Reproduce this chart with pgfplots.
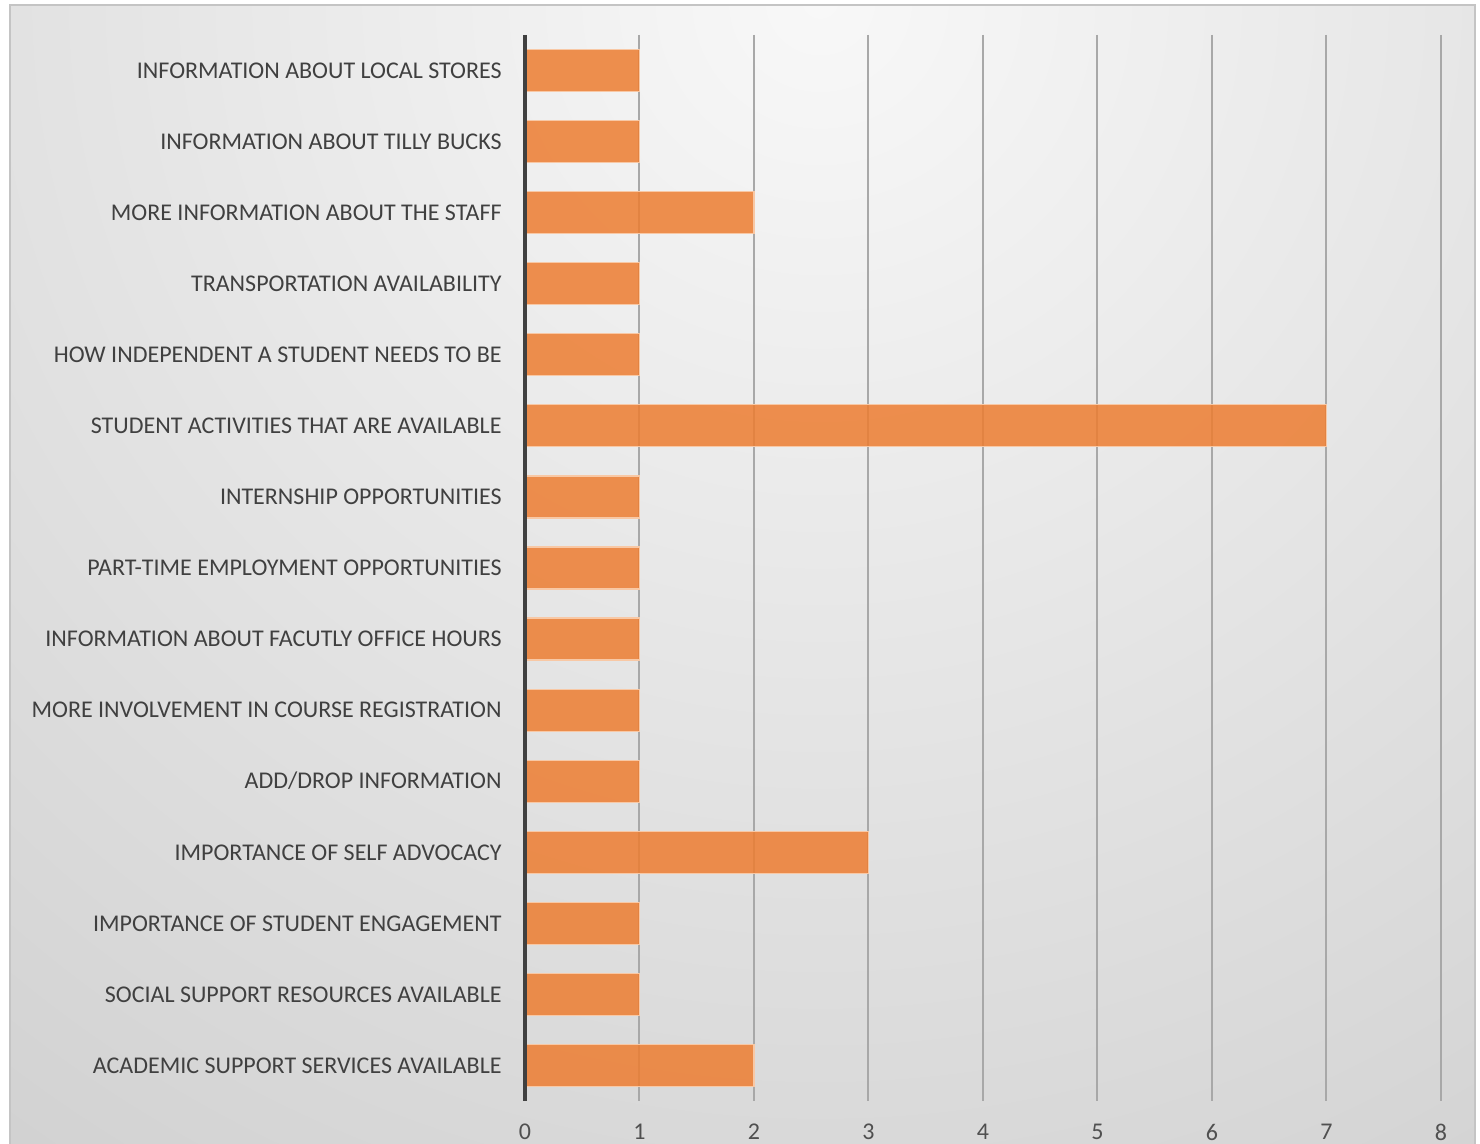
\documentclass[border=0pt]{standalone}
\usepackage{pgfplots}
\pgfplotsset{compat=1.18}
\usepackage{fontspec}
\setmainfont{Carlito}
\definecolor{barc}{HTML}{ED7D31}
\definecolor{barborder}{RGB}{248,200,165}
\definecolor{bgin}{HTML}{F8F8F8}
\definecolor{bgout}{HTML}{BCBCBC}
\definecolor{bordc}{HTML}{C4C4C4}
\definecolor{gridc}{HTML}{A8A8A8}
\definecolor{labc}{HTML}{404040}
\definecolor{tickc}{HTML}{505050}
\definecolor{axc}{HTML}{404040}
\begin{document}
\begin{tikzpicture}[x=1pt,y=1pt]
\path[use as bounding box, fill=white] (0,0) rectangle (740,572);
\begin{scope}
\clip (5,0) rectangle (737.5,569.5);
\shade[inner color=bgin, outer color=bgout] (410,572) circle (1100);
\end{scope}
\draw[bordc, line width=1.2pt] (5,-5) -- (5,569.5) -- (737.5,569.5) -- (737.5,-5);
\begin{axis}[
  at={(262.5pt,21.5pt)}, anchor=south west,
  scale only axis, width=458pt, height=533pt,
  xmin=0, xmax=8, ymin=-0.5, ymax=14.5, y dir=reverse,
  xbar, bar width=21pt,
  ytick={0,...,14},
  yticklabels={INFORMATION ABOUT LOCAL STORES, INFORMATION ABOUT TILLY BUCKS, MORE INFORMATION ABOUT THE STAFF, TRANSPORTATION AVAILABILITY, HOW INDEPENDENT A STUDENT NEEDS TO BE, STUDENT ACTIVITIES THAT ARE AVAILABLE, INTERNSHIP OPPORTUNITIES, PART-TIME EMPLOYMENT OPPORTUNITIES, INFORMATION ABOUT FACUTLY OFFICE HOURS, MORE INVOLVEMENT IN COURSE REGISTRATION, ADD/DROP INFORMATION, IMPORTANCE OF SELF ADVOCACY, IMPORTANCE OF STUDENT ENGAGEMENT, SOCIAL SUPPORT RESOURCES AVAILABLE, ACADEMIC SUPPORT SERVICES AVAILABLE},
  xtick={0,...,8},
  xmajorgrids, ymajorgrids=false,
  major grid style={gridc, line width=1pt},
  major tick length=0pt,
  axis line style={draw=none},
  /pgf/number format/assume math mode=true,
  tick label style={font=\fontsize{12}{14}\selectfont},
  yticklabel style={text=labc, inner sep=0pt, anchor=base east, xshift=-11.5pt, yshift=-3.9pt},
  xticklabel style={text=tickc, inner sep=0pt, anchor=north, yshift=-11.5pt},
  clip=false,
]
\addplot[fill=barc, fill opacity=0.85, draw=barborder, line width=0.6pt] coordinates {
(1,0) (1,1) (2,2) (1,3) (1,4) (7,5) (1,6) (1,7) (1,8) (1,9) (1,10) (3,11) (1,12) (1,13) (2,14)
};
\draw[axc, line width=2.2pt] (axis cs:0,-0.5) -- (axis cs:0,14.5);
\end{axis}
\end{tikzpicture}
\end{document}
